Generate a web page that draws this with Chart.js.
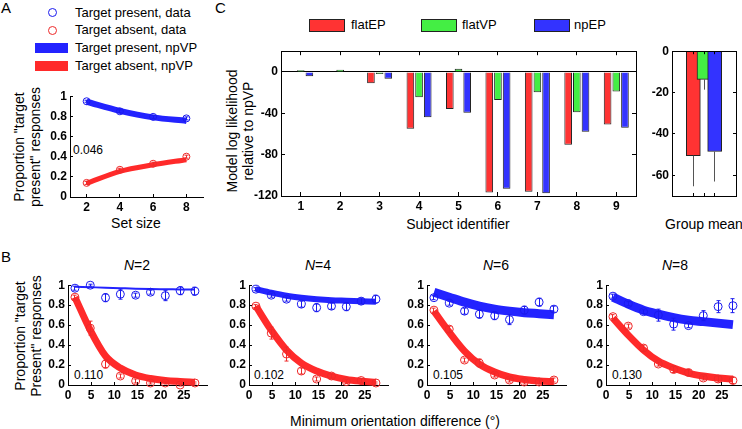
<!DOCTYPE html>
<html lang="en">
<head>
<meta charset="utf-8">
<title>Target present responses and model comparison</title>
<script src="https://cdn.jsdelivr.net/npm/chart.js"></script>
<style>
  html, body { margin: 0; padding: 0; background: #fff; }
  #fig { position: relative; width: 742px; height: 429px; overflow: hidden;
         font-family: 'Liberation Sans', Arial, sans-serif; color: #000; }
  #fig canvas { position: absolute; }
  .t { position: absolute; white-space: nowrap; font-size: 14px; line-height: 16px; }
  .c { transform: translate(-50%, -50%); }
  .l { transform: translate(0, -50%); }
  .v { transform: translate(-50%, -50%) rotate(-90deg); text-align: center; }
  .lbl { font-size: 15px; }
  .leg { font-size: 13px; }
  .num { font-size: 12px; }
  .mk { position: absolute; width: 7px; height: 7px; border: 1px solid; border-radius: 50%; }
  .sw { position: absolute; }
</style>
</head>
<body>
<div id="fig">
  <div class="t lbl" style="left:1px;top:0px">A</div>
  <div class="t lbl" style="left:1px;top:249px">B</div>
  <div class="t lbl" style="left:215px;top:0px">C</div>

  <!-- legend A -->
  <div class="mk" style="left:48px;top:8px;border-color:#1a1aee"></div>
  <div class="mk" style="left:48px;top:26px;border-color:#ee2a2a"></div>
  <div class="sw" style="left:35px;top:43px;width:33px;height:10px;background:#2323ff"></div>
  <div class="sw" style="left:35px;top:61px;width:33px;height:10px;background:#ff2a2a"></div>
  <div class="t l leg" style="left:75px;top:13px">Target present, data</div>
  <div class="t l leg" style="left:75px;top:30px">Target absent, data</div>
  <div class="t l leg" style="left:75px;top:48px">Target present, npVP</div>
  <div class="t l leg" style="left:75px;top:66px">Target absent, npVP</div>

  <!-- legend C -->
  <div class="sw" style="left:309px;top:19px;width:34px;height:11px;background:#ff3333;border:1px solid #222"></div>
  <div class="t l leg" style="left:351px;top:25px">flatEP</div>
  <div class="sw" style="left:421px;top:19px;width:34px;height:11px;background:#44ee44;border:1px solid #222"></div>
  <div class="t l leg" style="left:462px;top:25px">flatVP</div>
  <div class="sw" style="left:534px;top:19px;width:34px;height:11px;background:#3333ff;border:1px solid #222"></div>
  <div class="t l leg" style="left:574px;top:25px">npEP</div>

  <!-- axis titles -->
  <div class="t v" style="left:27px;top:147px">Proportion "target<br>present" responses</div>
  <div class="t c" style="left:136px;top:223px">Set size</div>
  <div class="t l num" style="left:73px;top:150px">0.046</div>

  <div class="t v" style="left:240px;top:131px">Model log likelihood<br>relative to npVP</div>
  <div class="t c" style="left:458px;top:224px">Subject identifier</div>
  <div class="t c" style="left:704px;top:224px">Group mean</div>

  <div class="t v" style="left:28px;top:336px">Proportion "target<br>Present" responses</div>
  <div class="t c" style="left:395px;top:421px">Minimum orientation difference (°)</div>

  <div class="t c" style="left:137px;top:265px"><i>N</i>=2</div>
  <div class="t c" style="left:318px;top:265px"><i>N</i>=4</div>
  <div class="t c" style="left:496px;top:265px"><i>N</i>=6</div>
  <div class="t c" style="left:675px;top:265px"><i>N</i>=8</div>

  <div class="t l num" style="left:74px;top:375px">0.110</div>
  <div class="t l num" style="left:254px;top:375px">0.102</div>
  <div class="t l num" style="left:433px;top:375px">0.105</div>
  <div class="t l num" style="left:612px;top:375px">0.130</div>
</div>

<script>
  // ---- panel A: proportion "present" vs set size ----
  const setSizes = [2, 4, 6, 8];
  const aPresent = [0.95, 0.85, 0.795, 0.78];
  const aPresentErr = [0.01, 0.015, 0.015, 0.015];
  const aAbsent = [0.14, 0.27, 0.33, 0.40];
  const aAbsentErr = [0.015, 0.015, 0.015, 0.015];
  const aPresentFit = [0.945, 0.855, 0.79, 0.755];
  const aAbsentFit = [0.135, 0.255, 0.32, 0.37];
  const aXTicks = [2, 4, 6, 8];
  const propTicks = [0, 0.2, 0.4, 0.6, 0.8, 1];

  // ---- panel C: log likelihood relative to npVP ----
  const subjects = ['1', '2', '3', '4', '5', '6', '7', '8', '9'];
  const flatEP = [-0.5, 0.5, -10.9, -55, -35.8, -116.5, -116, -70.4, -50.9];
  const flatVP = [1.5, 2, -2, -24.6, 3, -27.2, -19.8, -39, -18.9];
  const npEP = [-4.2, -0.5, -6.7, -43.8, -39.4, -113, -117.4, -57.9, -54];
  const cYTicks = [-120, -80, -40, 0];
  const groupX = [1, 2, 3];
  const groupMean = [-50.5, -13.6, -48.5];
  const groupErr = [14.8, 5.0, 14.5];
  const groupYTicks = [-60, -40, -20, 0];

  // ---- panel B: proportion "present" vs min orientation difference ----
  const diffBins = [1.5, 4.8, 8.1, 11.3, 14.6, 17.8, 21.0, 24.2, 27.4];
  const bXTicks = [0, 5, 10, 15, 20, 25];

  const present2 = [0.97, 1.0, 0.875, 0.91, 0.90, 0.93, 0.895, 0.945, 0.94];
  const presentErr2 = [0.02, 0.01, 0.04, 0.05, 0.02, 0.02, 0.05, 0.04, 0.04];
  const absent2 = [0.88, 0.57, 0.21, 0.09, 0.04, 0.02, 0.02, 0.0, 0.02];
  const absentErr2 = [0.02, 0.07, 0.04, 0.02, 0.02, 0.01, 0.01, 0.01, 0.01];
  const presentFit2 = [0.985, 0.98, 0.975, 0.97, 0.965, 0.962, 0.96, 0.958, 0.956];
  const absentFit2 = [0.88, 0.55, 0.29, 0.17, 0.10, 0.065, 0.045, 0.035, 0.028];

  const present4 = [0.96, 0.90, 0.86, 0.81, 0.775, 0.79, 0.785, 0.84, 0.86];
  const presentErr4 = [0.015, 0.02, 0.02, 0.03, 0.04, 0.03, 0.04, 0.03, 0.04];
  const absent4 = [0.79, 0.52, 0.31, 0.14, 0.06, 0.09, 0.035, 0.045, 0.02];
  const absentErr4 = [0.015, 0.06, 0.07, 0.03, 0.02, 0.02, 0.02, 0.02, 0.01];
  const presentFit4 = [0.96, 0.925, 0.895, 0.875, 0.86, 0.85, 0.845, 0.84, 0.835];
  const absentFit4 = [0.79, 0.55, 0.35, 0.22, 0.14, 0.088, 0.055, 0.038, 0.028];

  const present6 = [0.875, 0.82, 0.74, 0.71, 0.695, 0.655, 0.75, 0.83, 0.76];
  const presentErr6 = [0.02, 0.02, 0.03, 0.04, 0.04, 0.05, 0.04, 0.04, 0.03];
  const absent6 = [0.75, 0.56, 0.25, 0.22, 0.10, 0.05, 0.03, 0.03, 0.05];
  const absentErr6 = [0.02, 0.03, 0.02, 0.04, 0.02, 0.02, 0.02, 0.02, 0.02];
  const presentFit6 = [0.93, 0.88, 0.83, 0.79, 0.76, 0.74, 0.725, 0.715, 0.705];
  const absentFit6 = [0.74, 0.53, 0.34, 0.21, 0.13, 0.08, 0.055, 0.04, 0.035];

  const present8 = [0.89, 0.815, 0.735, 0.70, 0.61, 0.595, 0.695, 0.785, 0.795];
  const presentErr8 = [0.02, 0.02, 0.02, 0.06, 0.06, 0.02, 0.05, 0.06, 0.07];
  const absent8 = [0.685, 0.59, 0.37, 0.21, 0.155, 0.125, 0.07, 0.06, 0.045];
  const absentErr8 = [0.02, 0.02, 0.03, 0.02, 0.03, 0.03, 0.02, 0.03, 0.03];
  const presentFit8 = [0.88, 0.81, 0.75, 0.71, 0.675, 0.65, 0.635, 0.62, 0.605];
  const absentFit8 = [0.67, 0.50, 0.35, 0.24, 0.17, 0.12, 0.09, 0.07, 0.06];

  // colours
  const BLUE_DOT = '#1a1aee', RED_DOT = '#ee2a2a';
  const BLUE_FIT = '#2323ff', RED_FIT = '#ff2a2a';
  const BAR_RED = '#ff3333', BAR_GREEN = '#44ee44', BAR_BLUE = '#3333ff';
  const tickFont = { family: "'Liberation Sans', Arial, sans-serif", size: 12, weight: 'bold' };

  const align = p => Math.round(p - 0.5) + 0.5;

  // matlab style ticks pointing into the axes, optional full box
  const inwardTicks = {
    id: 'inwardTicks',
    afterDatasetsDraw(chart, args, opts) {
      const { ctx, chartArea: a, scales } = chart;
      const len = opts.len || 3;
      ctx.save();
      ctx.strokeStyle = '#000';
      ctx.lineWidth = 1;
      ctx.beginPath();
      scales.x.ticks.forEach((t, i) => {
        const px = align(scales.x.getPixelForTick(i));
        ctx.moveTo(px, a.bottom); ctx.lineTo(px, a.bottom - len);
        if (opts.box) { ctx.moveTo(px, a.top); ctx.lineTo(px, a.top + len); }
      });
      scales.y.ticks.forEach((t, i) => {
        const py = align(scales.y.getPixelForTick(i));
        ctx.moveTo(a.left, py); ctx.lineTo(a.left + len, py);
        if (opts.box) { ctx.moveTo(a.right, py); ctx.lineTo(a.right - len, py); }
      });
      ctx.stroke();
      if (opts.box) {
        ctx.strokeRect(align(a.left), align(a.top), Math.round(a.right - a.left), Math.round(a.bottom - a.top));
      }
      ctx.restore();
    }
  };

  const errorBars = {
    id: 'errorBars',
    afterDatasetsDraw(chart, args, opts) {
      if (!opts.sets) return;
      const { ctx } = chart;
      const ys = chart.scales.y;
      ctx.save();
      ctx.lineWidth = 1;
      opts.sets.forEach(s => {
        const meta = chart.getDatasetMeta(s.dataset);
        const vals = chart.data.datasets[s.dataset].data;
        ctx.strokeStyle = s.color;
        ctx.beginPath();
        meta.data.forEach((el, i) => {
          const v = typeof vals[i] === 'object' ? vals[i].y : vals[i];
          const e = s.err[i];
          const x = align(el.x);
          const top = ys.getPixelForValue(s.lowerOnly ? v : v + e);
          const bot = ys.getPixelForValue(v - e);
          ctx.moveTo(x, top); ctx.lineTo(x, bot);
          if (s.cap) {
            if (!s.lowerOnly) { ctx.moveTo(x - s.cap, top); ctx.lineTo(x + s.cap, top); }
            ctx.moveTo(x - s.cap, bot); ctx.lineTo(x + s.cap, bot);
          }
        });
        ctx.stroke();
      });
      ctx.restore();
    }
  };

  Chart.register(inwardTicks, errorBars);

  // canvas sized so that the plot area lands on (L, T, W, H)
  function frame(L, T, W, H, m) {
    const c = document.createElement('canvas');
    c.width = m.yw + W + m.pr;
    c.height = m.pt + H + m.xh;
    c.style.left = (L - m.yw) + 'px';
    c.style.top = (T - m.pt) + 'px';
    c.style.width = c.width + 'px';
    c.style.height = c.height + 'px';
    document.getElementById('fig').appendChild(c);
    return c;
  }

  function axis(type, min, max, ticks, size, isX, extra) {
    const ax = {
      type: type,
      grid: { display: false, drawTicks: false },
      border: { display: true, color: '#000', width: 1 },
      ticks: { color: '#000', padding: 3, font: tickFont, autoSkip: false, maxRotation: 0 },
      afterFit: s => { if (isX) s.height = size; else s.width = size; }
    };
    if (type === 'linear') {
      ax.min = min;
      ax.max = max;
      ax.afterBuildTicks = s => { s.ticks = ticks.map(v => ({ value: v })); };
      ax.ticks.callback = v => String(v);
    }
    return Object.assign(ax, extra || {});
  }

  function pts(xs, ys) {
    return xs.map((x, i) => ({ x: x, y: ys[i] }));
  }

  function propChart(geo, m, xs, xMin, xMax, xTicks, present, presentErr, absent, absentErr, presentFit, absentFit, widths, r) {
    const canvas = frame(geo[0], geo[1], geo[2], geo[3], m);
    return new Chart(canvas, {
      type: 'line',
      data: {
        datasets: [
          { data: pts(xs, present), showLine: false, pointRadius: r, pointBorderWidth: 1,
            pointBorderColor: BLUE_DOT, pointBackgroundColor: 'rgba(0,0,0,0)', clip: false },
          { data: pts(xs, absent), showLine: false, pointRadius: r, pointBorderWidth: 1,
            pointBorderColor: RED_DOT, pointBackgroundColor: 'rgba(0,0,0,0)', clip: false },
          { data: pts(xs, presentFit), borderColor: BLUE_FIT, borderWidth: widths[0], pointRadius: 0,
            cubicInterpolationMode: 'monotone', borderCapStyle: 'butt', clip: false },
          { data: pts(xs, absentFit), borderColor: RED_FIT, borderWidth: widths[1], pointRadius: 0,
            cubicInterpolationMode: 'monotone', borderCapStyle: 'butt', clip: false }
        ]
      },
      options: {
        responsive: false,
        animation: false,
        devicePixelRatio: 1,
        layout: { padding: { top: m.pt, right: m.pr, left: 0, bottom: 0 } },
        scales: {
          x: axis('linear', xMin, xMax, xTicks, m.xh, true),
          y: axis('linear', 0, 1, propTicks, m.yw, false)
        },
        plugins: {
          legend: { display: false },
          tooltip: { enabled: false },
          inwardTicks: { len: 3 },
          errorBars: { sets: [
            { dataset: 0, err: presentErr, color: BLUE_DOT, cap: 2 },
            { dataset: 1, err: absentErr, color: RED_DOT, cap: 2 }
          ] }
        }
      }
    });
  }

  // A
  propChart([70, 96, 133, 101], { yw: 40, xh: 28, pt: 10, pr: 10 }, setSizes, 1, 9, aXTicks,
    aPresent, aPresentErr, aAbsent, aAbsentErr, aPresentFit, aAbsentFit, [6, 5], 3.5);

  // B
  const bMargin = { yw: 36, xh: 24, pt: 10, pr: 8 };
  propChart([68, 285, 139, 100], bMargin, diffBins, 0, 30, bXTicks,
    present2, presentErr2, absent2, absentErr2, presentFit2, absentFit2, [2, 7], 4);
  propChart([249, 285, 139, 100], bMargin, diffBins, 0, 30, bXTicks,
    present4, presentErr4, absent4, absentErr4, presentFit4, absentFit4, [6, 7], 4);
  propChart([427, 285, 139, 100], bMargin, diffBins, 0, 30, bXTicks,
    present6, presentErr6, absent6, absentErr6, presentFit6, absentFit6, [9, 7], 4);
  propChart([606, 285, 139, 100], bMargin, diffBins, 0, 30, bXTicks,
    present8, presentErr8, absent8, absentErr8, presentFit8, absentFit8, [9, 7], 4);

  // C, per subject
  const cMargin = { yw: 40, xh: 26, pt: 10, pr: 6 };
  new Chart(frame(281, 51, 355, 145, cMargin), {
    type: 'bar',
    data: {
      labels: subjects,
      datasets: [
        { label: 'flatEP', data: flatEP, backgroundColor: BAR_RED },
        { label: 'flatVP', data: flatVP, backgroundColor: BAR_GREEN },
        { label: 'npEP', data: npEP, backgroundColor: BAR_BLUE }
      ].map(d => Object.assign(d, { borderColor: '#222', borderWidth: 1,
        categoryPercentage: 0.66, barPercentage: 0.88 }))
    },
    options: {
      responsive: false,
      animation: false,
      devicePixelRatio: 1,
      layout: { padding: { top: cMargin.pt, right: cMargin.pr, left: 0, bottom: 0 } },
      scales: {
        x: axis('category', null, null, null, cMargin.xh, true),
        y: axis('linear', -120, 20, cYTicks, cMargin.yw, false, {
          grid: { display: true, drawTicks: false, lineWidth: 1,
            color: c => (c.tick && c.tick.value === 0) ? '#000' : 'rgba(0,0,0,0)' }
        })
      },
      plugins: {
        legend: { display: false },
        tooltip: { enabled: false },
        inwardTicks: { len: 4, box: true }
      }
    }
  });

  // C, group mean
  const gMargin = { yw: 34, xh: 20, pt: 10, pr: 5 };
  const gAxisX = axis('linear', 0, 4, groupX, gMargin.xh, true);
  gAxisX.ticks.callback = () => '';   // tick marks only, no labels
  new Chart(frame(672, 51, 64, 145, gMargin), {
    type: 'bar',
    data: {
      datasets: [{
        data: pts(groupX, groupMean),
        backgroundColor: [BAR_RED, BAR_GREEN, BAR_BLUE],
        borderColor: '#222',
        borderWidth: 1,
        barThickness: 14
      }]
    },
    options: {
      responsive: false,
      animation: false,
      devicePixelRatio: 1,
      layout: { padding: { top: gMargin.pt, right: gMargin.pr, left: 0, bottom: 0 } },
      scales: {
        x: gAxisX,
        y: axis('linear', -70, 0, groupYTicks, gMargin.yw, false)
      },
      plugins: {
        legend: { display: false },
        tooltip: { enabled: false },
        inwardTicks: { len: 3, box: true },
        errorBars: { sets: [{ dataset: 0, err: groupErr, color: '#555', lowerOnly: true }] }
      }
    }
  });
</script>
</body>
</html>
